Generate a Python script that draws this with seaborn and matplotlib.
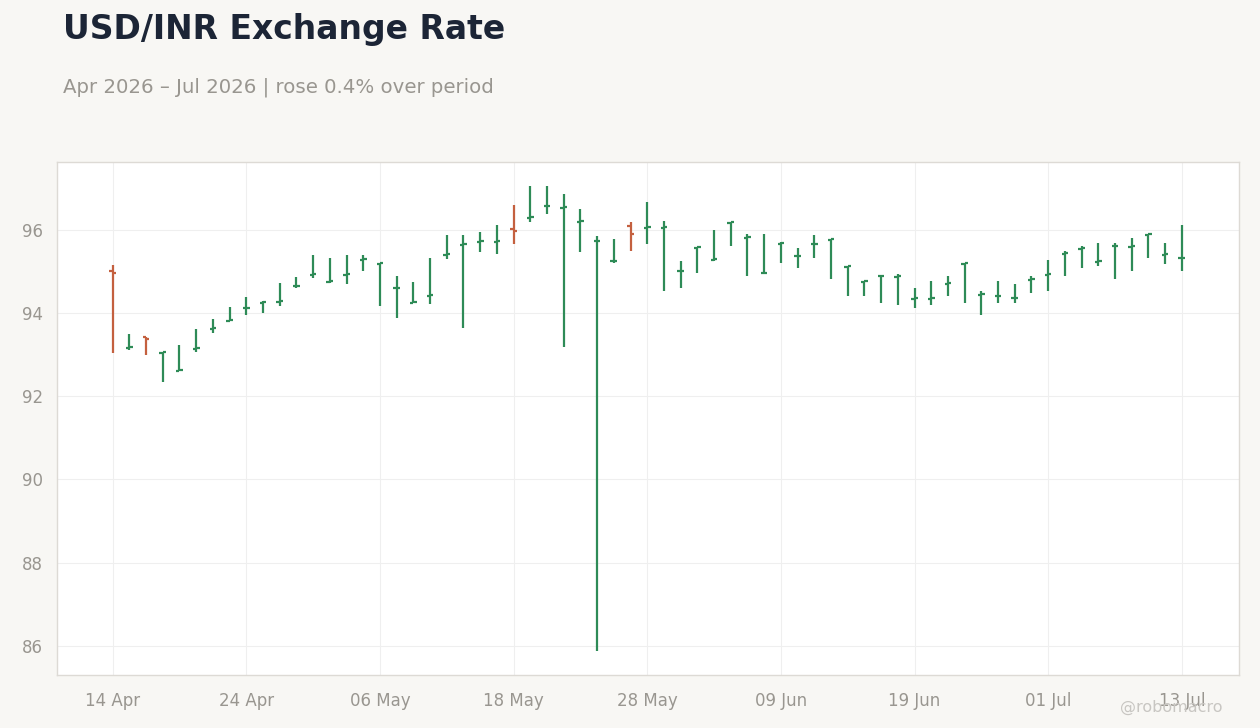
import numpy as np
import pandas as pd
import seaborn as sns
import matplotlib.pyplot as plt
import matplotlib.ticker as mticker

# daily OHLC, business days from 14 Apr 2026
start_date = "2026-04-14"
open_ = [95.00, 93.15, 93.42, 93.03, 92.60, 93.13, 93.61, 93.80, 94.11, 94.24,
         94.26, 94.64, 94.91, 94.75, 94.91, 95.27, 95.17, 94.59, 94.25, 94.42,
         95.39, 95.63, 95.70, 95.70, 96.02, 96.28, 96.56, 96.52, 96.18, 95.72,
         95.24, 96.08, 96.04, 96.04, 95.00, 95.56, 95.27, 96.16, 95.80, 94.95,
         95.67, 95.36, 95.65, 95.75, 95.10, 94.74, 94.88, 94.86, 94.33, 94.33,
         94.69, 95.18, 94.43, 94.40, 94.35, 94.79, 94.91, 95.42, 95.53, 95.22,
         95.60, 95.58, 95.87, 95.39, 95.31]
high = [95.16, 93.50, 93.42, 93.07, 93.24, 93.62, 93.86, 94.15, 94.39, 94.29,
        94.73, 94.87, 95.40, 95.33, 95.40, 95.40, 95.20, 94.89, 94.75, 95.33,
        95.88, 95.88, 95.95, 96.12, 96.60, 97.06, 97.06, 96.87, 96.50, 95.86,
        95.78, 96.19, 96.67, 96.22, 95.25, 95.58, 96.00, 96.18, 95.90, 95.90,
        95.70, 95.56, 95.88, 95.77, 95.12, 94.76, 94.90, 94.93, 94.60, 94.77,
        94.89, 95.20, 94.53, 94.77, 94.70, 94.89, 95.28, 95.48, 95.60, 95.69,
        95.69, 95.81, 95.91, 95.69, 96.12]
low = [93.03, 93.10, 93.00, 92.35, 92.60, 93.05, 93.51, 93.80, 93.94, 94.01,
       94.16, 94.59, 94.83, 94.71, 94.69, 95.00, 94.16, 93.89, 94.27, 94.21,
       95.29, 93.63, 95.46, 95.41, 95.67, 96.18, 96.39, 93.19, 95.46, 85.88,
       95.21, 95.50, 95.65, 94.54, 94.59, 94.96, 95.26, 95.60, 94.88, 94.97,
       95.19, 95.09, 95.31, 94.81, 94.42, 94.40, 94.23, 94.20, 94.13, 94.18,
       94.40, 94.25, 93.94, 94.23, 94.25, 94.47, 94.54, 94.90, 95.07, 95.14,
       94.81, 95.00, 95.31, 95.17, 95.00]
close = [94.96, 93.17, 93.38, 93.05, 92.62, 93.15, 93.63, 93.82, 94.13, 94.26,
         94.28, 94.66, 94.93, 94.77, 94.93, 95.29, 95.19, 94.61, 94.27, 94.44,
         95.41, 95.65, 95.72, 95.72, 95.97, 96.30, 96.58, 96.54, 96.20, 95.74,
         95.26, 95.91, 96.06, 96.06, 95.02, 95.58, 95.29, 96.18, 95.82, 94.97,
         95.69, 95.38, 95.67, 95.77, 95.12, 94.76, 94.90, 94.88, 94.35, 94.35,
         94.71, 95.20, 94.45, 94.42, 94.37, 94.81, 94.93, 95.44, 95.55, 95.24,
         95.62, 95.60, 95.89, 95.41, 95.33]

title = "USD/INR Exchange Rate"
subtitle = "Apr 2026 \u2013 Jul 2026 | rose 0.4% over period"
watermark = "@robomacro"

UP = "#2e8b57"
DOWN = "#c4603f"

dates = pd.bdate_range(start_date, periods=len(close))
df = pd.DataFrame({"date": dates, "open": open_, "high": high,
                   "low": low, "close": close})
df["i"] = np.arange(len(df))
df["dir"] = np.where(df["close"] >= df["open"], "up", "down")

sns.set_theme(style="white")
plt.rcParams["font.family"] = ["DejaVu Sans"]

fig = plt.figure(figsize=(12.6, 7.28), dpi=100, facecolor="#f8f7f4")
ax = fig.add_axes([0.045, 0.073, 0.938, 0.7045])
ax.set_facecolor("white")

colors = df["dir"].map({"up": UP, "down": DOWN})
tw = 0.2
ax.vlines(df["i"], df["low"], df["high"], colors=colors, lw=1.6, zorder=3)
ax.hlines(df["open"], df["i"] - tw, df["i"], colors=colors, lw=1.6, zorder=3)
ax.hlines(df["close"], df["i"], df["i"] + tw, colors=colors, lw=1.6, zorder=3)

ax.set_xlim(-3.35, 67.4)
ax.set_ylim(85.3, 97.63)
ax.yaxis.set_major_locator(mticker.MultipleLocator(2))
ax.yaxis.set_major_formatter(mticker.FormatStrFormatter("%d"))
xt = df["i"][::8]
ax.set_xticks(xt)
ax.set_xticklabels(df["date"][::8].dt.strftime("%d %b"))

ax.grid(True, color="#efefef", lw=0.8, zorder=0)
for s in ax.spines.values():
    s.set_color("#dddad5")
    s.set_linewidth(1)
ax.tick_params(axis="x", length=4, color="#cccccc", labelsize=12,
               labelcolor="#999690", pad=8)
ax.tick_params(axis="y", length=0, labelsize=12, labelcolor="#999690", pad=10)
ax.set_xlabel("")
ax.set_ylabel("")

fig.text(0.05, 0.946, title, fontsize=23.8, fontweight="bold", color="#1c2536")
fig.text(0.05, 0.873, subtitle, fontsize=14.2, color="#999690")
fig.text(0.97, 0.022, watermark, fontsize=11.5, color="#c8c6c2", ha="right")

fig.savefig("out.png", dpi=100, facecolor=fig.get_facecolor())
